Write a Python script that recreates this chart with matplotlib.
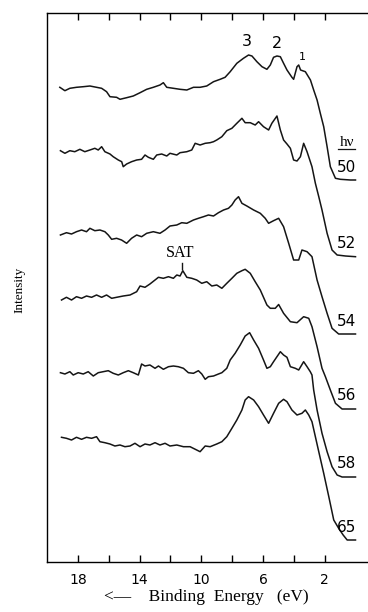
import numpy as np
import matplotlib
matplotlib.use("Agg")
import matplotlib.pyplot as plt

# ---- data: binding energy (eV) and intensity (arb. units) per photon energy ----
e50 = [19.17,18.84,18.52,18.09,17.65,17.22,16.79,16.46,16.14,15.92,15.49,15.27,14.84,14.41,13.97,13.54,13.11,12.68,12.46,12.24,11.81,11.38,10.94,10.51,10.08,9.65,9.21,8.78,8.46,8.13,7.70,7.27,6.94,6.72,6.40,6.07,5.75,5.53,5.32,5.10,4.88,4.67,4.45,4.13,4.02,3.80,3.69,3.57,3.26,2.93,2.72,2.50,2.29,2.07,1.85,1.64,1.31,0.99,0.34,0.01]
i50 = [92.7,89.3,91.7,92.7,93.3,94.0,92.7,91.7,88.3,83.3,82.7,80.7,82.3,84.0,87.3,90.7,92.7,95.0,97.3,92.7,91.7,90.7,90.0,92.7,92.7,94.0,98.3,100.7,102.7,108.3,116.7,121.7,125.0,124.0,118.3,113.3,110.7,115.0,122.7,124.0,123.3,116.7,110.0,102.7,100.7,113.3,115.0,110.0,108.3,100.0,90.0,80.0,66.7,53.3,33.3,13.3,1.7,0.7,0,0]

e52 = [19.13,18.84,18.52,18.20,17.87,17.55,17.22,16.90,16.68,16.46,16.25,15.92,15.71,15.38,15.16,15.06,14.84,14.52,14.19,13.87,13.65,13.43,13.11,12.89,12.57,12.24,12.03,11.59,11.38,10.94,10.62,10.40,10.08,9.75,9.43,9.21,9.00,8.67,8.35,8.02,7.70,7.37,7.16,6.83,6.51,6.29,5.97,5.64,5.43,5.10,4.88,4.67,4.45,4.23,4.02,3.80,3.58,3.37,3.15,2.83,2.61,2.39,2.18,1.85,1.53,1.20,0.66,0.01]
i52 = [105.3,102.7,105.3,104.3,106.7,104.3,106.0,107.7,106.0,109.3,104.3,102.0,99.3,96.0,94.3,89.3,92.0,94.3,96.0,96.7,101.0,98.7,96.7,101.0,102.0,100.0,102.7,101.0,103.3,104.3,106.0,112.7,111.0,112.7,113.3,114.3,116.0,119.3,125.3,127.7,132.7,137.7,133.3,133.3,131.0,134.3,129.3,126.0,132.7,140.0,126.0,116.0,112.0,107.7,96.0,95.0,99.3,112.7,104.3,89.3,72.7,59.3,46.0,22.7,6.0,1.0,0,-0.7]

e54 = [19.13,18.74,18.41,18.09,17.76,17.44,17.22,16.90,16.57,16.25,16.03,15.81,15.49,15.17,14.84,14.52,14.19,13.87,13.54,13.11,12.68,12.35,12.03,11.59,11.27,10.94,10.51,10.19,9.86,9.54,9.21,8.89,8.56,8.24,8.02,7.81,7.59,7.37,7.05,6.61,6.18,5.86,5.64,5.32,4.99,4.67,4.34,4.02,3.69,3.48,3.15,2.83,2.50,2.18,1.85,1.53,1.10,0.01]
i54 = [99.0,101.3,100.0,102.3,104.0,102.3,105.7,103.3,104.0,102.3,99.0,94.7,95.7,94.0,90.7,95.7,99.0,97.3,100.7,102.3,100.7,104.0,108.0,109.0,111.3,110.7,114.0,115.7,117.3,119.0,118.0,121.3,124.0,125.7,129.0,134.0,137.3,130.7,128.0,124.0,120.7,115.7,110.7,113.3,115.7,107.3,90.7,74.0,74.0,84.0,82.3,77.3,54.0,37.3,20.7,5.7,0,0]

e56 = [19.06,18.74,18.41,18.09,17.76,17.44,17.11,16.79,16.46,16.14,15.81,15.49,15.06,14.62,14.19,13.97,13.65,13.33,13.00,12.78,12.46,12.13,11.81,11.59,11.38,11.20,10.94,10.62,10.30,9.97,9.65,9.32,9.00,8.67,8.35,8.02,7.70,7.37,7.16,6.83,6.51,6.18,5.75,5.53,5.21,4.99,4.67,4.23,3.80,3.37,3.04,2.83,2.50,2.18,1.96,1.64,1.31,0.88,0.01]
i56 = [109.0,111.7,109.0,112.3,110.7,113.0,111.7,114.0,111.7,114.0,110.7,111.7,113.0,114.0,117.3,123.0,121.7,125.0,129.0,131.7,130.7,132.3,130.7,134.0,133.0,138.3,131.7,130.7,129.0,125.7,127.3,123.0,124.0,120.7,125.7,130.7,135.7,138.3,139.7,135.7,127.3,119.0,104.0,100.7,100.7,104.5,95.7,87.3,86.3,92.3,90.7,82.3,62.3,40.7,32.3,19.0,5.7,0,0]

e58 = [19.13,18.84,18.52,18.30,17.98,17.65,17.33,17.00,16.68,16.36,16.03,15.71,15.38,15.06,14.73,14.41,14.08,13.87,13.65,13.33,13.00,12.78,12.46,12.13,11.81,11.49,11.16,10.84,10.51,10.19,9.97,9.75,9.54,9.21,8.89,8.67,8.35,8.13,7.81,7.48,7.16,6.87,6.61,6.29,5.97,5.75,5.53,5.32,5.10,4.88,4.67,4.45,4.23,3.91,3.69,3.37,3.15,2.94,2.83,2.72,2.50,2.18,1.85,1.53,1.20,0.88,0.01]
i58 = [104.3,103.0,105.3,102.0,104.3,103.0,105.3,101.0,104.3,105.3,106.3,103.7,102.0,104.3,106.3,104.3,102.0,113.0,111.0,112.0,108.7,111.0,107.7,110.3,111.0,110.3,108.7,104.3,103.7,106.3,103.0,97.7,100.3,101.0,103.0,104.3,108.7,117.0,123.7,132.0,141.0,144.3,137.0,128.7,117.0,108.7,110.3,115.3,120.3,125.3,122.0,119.7,110.3,108.7,107.0,115.3,110.3,105.3,102.0,87.0,67.0,43.7,25.3,10.3,2.0,0,0]

e65 = [19.06,18.74,18.41,18.09,17.76,17.44,17.11,16.79,16.57,16.25,15.92,15.60,15.27,14.95,14.62,14.30,13.97,13.65,13.33,13.00,12.68,12.35,12.03,11.59,11.16,10.73,10.30,10.08,9.75,9.43,9.00,8.67,8.35,8.02,7.70,7.37,7.16,6.94,6.61,6.29,5.97,5.64,5.32,4.99,4.67,4.45,4.13,3.80,3.48,3.26,3.04,2.83,2.61,2.39,2.07,1.74,1.42,1.10,0.81,0.55,0.01]
i65 = [102.7,101.7,100.0,102.7,100.7,102.7,101.7,103.3,98.3,97.3,96.0,94.0,95.0,93.3,94.0,96.7,93.3,96.0,95.0,97.3,95.0,96.7,94.0,95.0,93.3,93.3,90.0,88.3,94.0,93.3,96.0,98.3,103.3,111.7,120.0,130.0,140.0,143.3,140.0,133.3,125.0,116.7,126.7,136.7,140.7,138.3,130.0,125.0,126.7,130.0,125.0,118.3,103.3,88.3,66.7,43.3,20.0,11.7,5.0,0,0]

energies = [e50, e52, e54, e56, e58, e65]
intensities = [i50, i52, i54, i56, i58, i65]
hv_labels = ["50", "52", "54", "56", "58", "65"]
peak_labels = ["3", "2", "1"]
xticks_major = [18, 14, 10, 6, 2]
xticks_all = [18, 16, 14, 12, 10, 8, 6, 4, 2]

# ---- layout ----
offsets = [432, 356, 278, 203, 135, 72]

W, H = 368, 612
fig = plt.figure(figsize=(W / 100, H / 100), dpi=100)
ax = fig.add_axes([47 / W, (H - 562) / H, (W - 47) / W, (562 - 13) / H])

for e, i, off in zip(energies, intensities, offsets):
    ax.plot(e, np.asarray(i) + off, color="#151515", lw=1.1, solid_joinstyle="round")

ax.set_xlim(20.0, -0.8)
ax.set_ylim(50, 599)

ax.set_xticks(xticks_all)
ax.set_xticklabels([str(t) if t in xticks_major else "" for t in xticks_all],
                   fontsize=10, family="DejaVu Sans")
ax.tick_params(axis="x", direction="in", length=5, width=1, top=True, pad=8)
ax.set_yticks([])
ax.spines["right"].set_visible(False)
for s in ["left", "top", "bottom"]:
    ax.spines[s].set_linewidth(1.0)

serif = ["Liberation Serif", "DejaVu Serif"]
sans = ["DejaVu Sans"]

# axis labels
fig.text(206 / W, 1 - 597 / H, "<—    Binding  Energy   (eV)", ha="center", va="center",
         fontsize=12.5, family=serif)
fig.text(19 / W, 1 - 290 / H, "Intensity", ha="center", va="center", rotation=90,
         fontsize=9.5, family=serif)

# peak labels on top spectrum
ax.text(7.03, 570, peak_labels[0], ha="center", va="center", fontsize=11.5, family=sans)
ax.text(5.08, 569, peak_labels[1], ha="center", va="center", fontsize=11.5, family=sans)
ax.text(3.45, 555, peak_labels[2], ha="center", va="center", fontsize=8, family=sans)

# photon energy labels
for lab, off in zip(hv_labels, offsets):
    ax.text(0.58, off + 13, lab, ha="center", va="center", fontsize=11, family=sans)
ax.text(0.58, 612 - 142, "hν", ha="center", va="center", fontsize=11, family=serif)
ax.plot([1.15, 0.02], [612 - 149, 612 - 149], color="#151515", lw=0.9)

# satellite marker
ax.text(11.35, 612 - 253, "SAT", ha="center", va="center", fontsize=11.5, family=serif)
ax.plot([11.27, 11.27], [612 - 263, 612 - 269], color="#151515", lw=1.0)

fig.savefig("out.png", dpi=100)
